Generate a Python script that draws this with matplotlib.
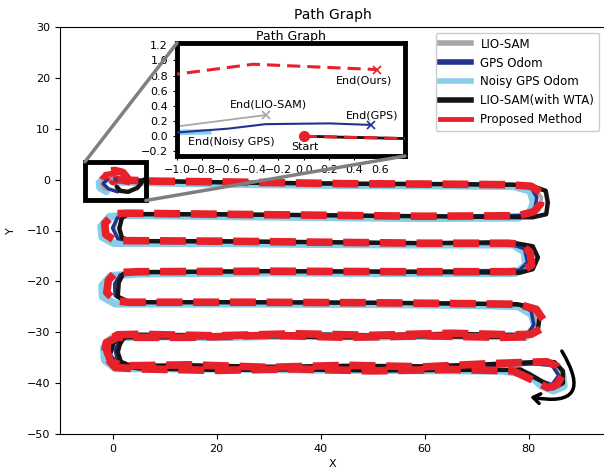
import numpy as np
import matplotlib
matplotlib.use("Agg")
import matplotlib.pyplot as plt
from matplotlib.patches import Rectangle, ConnectionPatch
from matplotlib.lines import Line2D

nan = float("nan")

# ---------------- data (x, y) ----------------
lio_sam_xy = [(0.0, 0.0), (8, -0.3), (25, -0.6), (45, -0.8), (65, -0.9), (77, -1.0), (81, -1.5),
              (82.5, -3.5), (82, -6.0), (79.5, -7.2), (60, -7.2), (40, -7.0), (20, -6.9), (3, -6.8),
              (0.8, -7.6), (0.3, -9.8), (1.2, -11.7), (3.5, -12.1), (20, -12.2), (40, -12.3),
              (60, -12.5), (77, -12.5), (80.2, -13.8), (80.8, -16.4), (78.5, -18.0), (55, -18.1),
              (30, -18.0), (5, -18.2), (1.5, -18.7), (0.5, -20.5), (0.6, -22.8), (2.8, -24.0),
              (25, -24.1), (50, -24.2), (70, -24.4), (78.2, -24.6), (81, -25.8), (81.5, -28.5),
              (80, -30.5), (65, -30.4), (50, -30.6), (35, -30.4), (20, -30.6), (5, -30.5),
              (1.5, -31.2), (0.6, -33.5), (1.2, -35.8), (3.0, -36.7), (20, -36.7), (40, -36.8),
              (60, -36.8), (75, -36.5), (81, -36.2), (84.8, -36.6), (86.2, -38.6), (84.8, -40.5),
              (81.5, -39.3), (78.5, -37.6), (nan, nan),
              (-1.5, -2.0), (-2.2, -0.8), (-1.8, -0.1), (-1.0, 0.13), (-0.3, 0.28)]

gps_xy = [(0.0, 0.0), (8, -0.3), (25, -0.6), (45, -0.8), (65, -0.9), (77, -1.0), (80.5, -1.6),
          (81.6, -3.5), (81.2, -5.8), (79.5, -7.0), (60, -7.2), (40, -7.0), (20, -6.9), (3, -6.8),
          (1.0, -7.4), (0.0, -9.5), (1.0, -11.6), (3.5, -12.1), (20, -12.2), (40, -12.3),
          (60, -12.5), (76.5, -12.6), (79.2, -13.6), (79.8, -16.2), (78.3, -17.8), (55, -18.1),
          (30, -18.0), (5, -18.2), (1.5, -18.7), (0.4, -20.5), (0.5, -22.8), (2.5, -24.0),
          (25, -24.1), (50, -24.2), (70, -24.4), (78.2, -24.6), (80.5, -25.8), (81.0, -28.5),
          (79.8, -30.4), (65, -30.4), (50, -30.6), (35, -30.4), (20, -30.6), (5, -30.5),
          (1.5, -31.2), (0.5, -33.5), (1.0, -35.8), (3.0, -36.7), (20, -36.7), (40, -36.8),
          (60, -36.8), (75, -36.5), (81, -36.2), (84.5, -36.5), (85.8, -38.5), (84.5, -40.3),
          (81.5, -39.2), (78.5, -37.6), (nan, nan),
          (1.0, -2.4), (-0.8, -1.8), (-1.8, -0.8), (-1.0, 0.05), (-0.6, 0.10), (-0.3, 0.16),
          (0.2, 0.17), (0.53, 0.15)]

noisy_gps_xy = [(0.0, -0.4), (8, -0.6), (25, -0.9), (45, -1.1), (65, -1.2), (77, -1.3), (80.3, -2.2),
                (81.0, -4.5), (80.2, -6.5), (78, -7.5), (60, -7.6), (40, -7.4), (20, -7.2), (3, -7.0),
                (-0.6, -7.3), (-2.2, -9.2), (-2.0, -11.3), (0.2, -12.5), (20, -12.5), (40, -12.7),
                (60, -12.8), (77, -12.8), (79.2, -14.2), (79.5, -16.8), (77.5, -18.4), (55, -18.4),
                (30, -18.3), (5, -18.5), (-0.3, -18.9), (-2.0, -20.8), (-1.9, -23.0), (0.5, -24.4),
                (25, -24.4), (50, -24.5), (70, -24.7), (78, -24.9), (80.6, -26.5), (81.3, -29.0),
                (79.5, -30.9), (65, -30.7), (50, -30.9), (35, -30.7), (20, -31.0), (5, -30.8),
                (-0.3, -31.3), (-1.7, -33.0), (-1.5, -35.5), (0.5, -37.1), (20, -37.2), (40, -37.4),
                (60, -37.5), (75, -37.6), (80, -38.3), (82.5, -40.5), (84.8, -41.5), (86.8, -40.6),
                (86.5, -38.2), (nan, nan),
                (-1.2, -2.3), (-2.4, -1.6), (-2.5, -0.6), (-1.9, 0.0), (-1.0, 0.05), (-0.75, 0.06)]

wta_xy = [(0.0, 0.0), (8, -0.3), (25, -0.6), (45, -0.8), (65, -0.9), (77, -1.0), (80.5, -1.2),
          (83.3, -2.2), (83.7, -4.5), (83.4, -6.8), (80.8, -7.4), (60, -7.2), (40, -7.0), (20, -6.8),
          (3, -6.8), (1.8, -7.5), (1.3, -9.6), (1.8, -11.4), (3.5, -12.1), (20, -12.1), (40, -12.3),
          (60, -12.5), (76.4, -12.3), (80.8, -13.1), (81.8, -15.3), (80.8, -17.6), (78.3, -18.3),
          (55, -18.1), (30, -18.0), (5, -18.2), (2.0, -18.6), (1.2, -20.2), (1.0, -23.0),
          (3.3, -24.1), (25, -24.1), (50, -24.2), (70, -24.4), (77.8, -24.5), (80.8, -25.1),
          (82.2, -26.5), (81.8, -29.4), (80.2, -30.7), (65, -30.3), (50, -30.6), (35, -30.4),
          (20, -30.6), (5, -30.5), (2.2, -31.0), (1.4, -32.4), (1.0, -33.9), (1.6, -35.8),
          (3.5, -36.6), (15, -36.5), (30, -36.8), (45, -36.6), (60, -36.7), (72, -36.3),
          (80.5, -35.9), (83.1, -35.7), (85.0, -35.9), (86.6, -37.6), (86.6, -40.0), (84.7, -41.0),
          (81.5, -39.0), (78.4, -37.3), (77, -37.4), (65, -37.4), (50, -37.5), (35, -37.3),
          (20, -37.4), (5, -37.1), (1.0, -36.5), (-0.5, -34.5), (0.2, -32.0), (2.0, -31.0),
          (15, -31.0), (30, -30.8), (45, -31.0), (60, -30.8), (75, -30.9), (79.0, -30.8),
          (nan, nan),
          (6.0, 0.0), (4.8, -1.6), (3.0, -2.4), (1.5, -2.2), (0.8, -1.4)]

proposed_xy = [(0.0, 0.0), (0.8, -0.03), (8, -0.3), (25, -0.5), (45, -0.8), (65, -0.9), (76, -1.0),
               (80.5, -1.3), (82.5, -2.6), (82.3, -4.8), (81.0, -6.3), (78, -7.1), (60, -7.2),
               (40, -7.0), (20, -6.8), (3, -6.6), (0.3, -6.7), (-1.5, -8.6), (-1.3, -10.8),
               (0.5, -12.0), (3, -12.0), (20, -12.1), (40, -12.3), (60, -12.5), (76, -12.5),
               (78.5, -12.7), (80.3, -14.3), (80.6, -16.8), (78.5, -18.0), (76, -18.1), (55, -18.1),
               (30, -18.0), (5, -18.1), (0.5, -18.3), (-0.8, -19.8), (-1.1, -22.2), (0.5, -23.8),
               (3, -24.1), (25, -24.1), (50, -24.2), (70, -24.4), (78, -24.5), (81.5, -25.5),
               (82.8, -27.5), (82.5, -29.3), (80.5, -30.4), (77, -30.5), (65, -30.2), (50, -30.6),
               (35, -30.3), (20, -30.7), (5, -30.4), (1, -30.5), (-0.8, -31.5), (-1.1, -33.7),
               (-0.3, -35.8), (2, -36.6), (15, -36.4), (30, -36.9), (45, -36.5), (60, -36.8),
               (72, -36.2), (80, -35.9), (83.5, -35.8), (85.5, -36.7), (86.4, -38.6), (85.5, -40.3),
               (83.7, -40.9), (80.8, -39.4), (77, -37.6), (65, -37.3), (50, -37.6), (35, -37.2),
               (20, -37.5), (5, -37.2), (0.5, -36.9), (-1.6, -34.5), (-1.2, -32.0), (1.0, -31.0),
               (15, -31.0), (30, -30.6), (45, -31.0), (60, -30.7), (75, -31.0), (79.5, -30.9),
               (nan, nan),
               (2.6, -1.0), (2.8, 0.4), (2.0, 1.4), (0.5, 1.8), (-1.1, 1.6), (-2.1, 1.0),
               (-1.8, 0.7), (-1.0, 0.82), (-0.4, 0.95), (0.58, 0.88)]

series_labels = ["LIO-SAM", "GPS Odom", "Noisy GPS Odom", "LIO-SAM(with WTA)", "Proposed Method"]

start_point = (0.0, 0.0)
end_markers = [(-0.3, 0.28, "#a8a8a8"), (0.53, 0.15, "#23328f"), (0.58, 0.88, "#e8202a")]
inset_texts = [("End(Ours)", 0.48, 0.73), ("End(LIO-SAM)", -0.28, 0.42), ("End(GPS)", 0.54, 0.28),
               ("End(Noisy GPS)", -0.57, -0.07), ("Start", 0.01, -0.14)]

main_xticks = [0, 20, 40, 60, 80]
main_yticks = [-50, -40, -30, -20, -10, 0, 10, 20, 30]
inset_xticks = [-1.0, -0.8, -0.6, -0.4, -0.2, 0.0, 0.2, 0.4, 0.6]
inset_yticks = [-0.2, 0.0, 0.2, 0.4, 0.6, 0.8, 1.0, 1.2]

# ---------------- styles ----------------
colors = ["#a8a8a8", "#23328f", "#87ceeb", "#151515", "#e8202a"]
data = [lio_sam_xy, gps_xy, noisy_gps_xy, wta_xy, proposed_xy]
main_lw = [2.5, 2.5, 5.5, 3.2, 5.5]
inset_lw = [1.3, 1.5, 4.0, 2.0, 2.2]
zorders = [2, 3, 1, 4, 5]


def xy(pairs):
    arr = np.array(pairs, dtype=float)
    return arr[:, 0], arr[:, 1]


fig = plt.figure(figsize=(6.04, 4.74), dpi=100)
ax = fig.add_axes([60 / 604, 40 / 474, 545 / 604, 407 / 474])

for pairs, c, lw, z, lab in zip(data, colors, main_lw, zorders, series_labels):
    x, y = xy(pairs)
    if lab == "Proposed Method":
        ax.plot(x, y, color=c, lw=lw, zorder=z, linestyle=(0, (3.4, 1.4)))
    else:
        ax.plot(x, y, color=c, lw=lw, zorder=z, solid_capstyle="round")

ax.plot(*start_point, "o", color="#e8202a", ms=6, zorder=6)

ax.set_xlim(-10.1, 94.7)
ax.set_ylim(-50, 30)
ax.set_xticks(main_xticks)
ax.set_yticks(main_yticks)
ax.tick_params(labelsize=8)
ax.set_title("Path Graph", fontsize=10)
ax.set_xlabel("X", fontsize=8)
ax.set_ylabel("Y", fontsize=8)
ax.xaxis.set_label_coords(0.5, -0.062)
ax.yaxis.set_label_coords(-0.081, 0.5)

# legend with uniform thick handles
handles = [Line2D([], [], color=c, lw=(3.5 if lab == "Proposed Method" else 4))
           for c, lab in zip(colors, series_labels)]
leg = ax.legend(handles, series_labels, loc="upper right", fontsize=8.5, framealpha=1,
                edgecolor="#cccccc", handlelength=2.6)

# indicator rectangle
rect = Rectangle((-5.3, -4.1), 11.7, 7.6, fill=False, edgecolor="black", lw=3.5, zorder=10)
ax.add_patch(rect)

# turning arrow
ax.annotate("", xy=(80.3, -42.7), xytext=(86.4, -33.7),
            arrowprops=dict(arrowstyle="->,head_length=0.5,head_width=0.35",
                            connectionstyle="arc3,rad=-1.1", color="black", lw=2.5,
                            shrinkA=0, shrinkB=0), zorder=7)

# ---------------- inset ----------------
axins = fig.add_axes([177 / 604, (474 - 156) / 474, 228 / 604, 113 / 474])
for pairs, c, lw, z, lab in zip(data, colors, inset_lw, zorders, series_labels):
    x, y = xy(pairs)
    if lab == "Proposed Method":
        axins.plot(x, y, color=c, lw=lw, zorder=z, linestyle=(0, (4.3, 2.3)))
    else:
        axins.plot(x, y, color=c, lw=lw, zorder=z)
axins.plot(*start_point, "o", color="#e8202a", ms=7, zorder=6)
for ex, ey, ec in end_markers:
    axins.plot(ex, ey, "x", color=ec, ms=6, mew=1.2, zorder=7)
    ax.plot(ex, ey, "x", color=ec, ms=3, mew=0.8, zorder=7)
for t, tx, ty in inset_texts:
    axins.text(tx, ty, t, fontsize=8, ha="center", va="center", zorder=8)
axins.set_xlim(-1.0, 0.8)
axins.set_ylim(-0.26, 1.23)
axins.set_xticks(inset_xticks)
axins.set_yticks(inset_yticks)
axins.tick_params(labelsize=8, length=3)
axins.set_title("Path Graph", fontsize=9, pad=2)
for s in axins.spines.values():
    s.set_linewidth(3.5)
    s.set_color("black")

# connector lines
con1 = ConnectionPatch(xyA=(-5.3, 3.5), coordsA=ax.transData, xyB=(0, 1), coordsB=axins.transAxes,
                       color="#7f7f7f", lw=2.5)
con2 = ConnectionPatch(xyA=(6.4, -4.1), coordsA=ax.transData, xyB=(1, 0), coordsB=axins.transAxes,
                       color="#7f7f7f", lw=2.5)
fig.add_artist(con1)
fig.add_artist(con2)

fig.savefig("out.png", dpi=100)
